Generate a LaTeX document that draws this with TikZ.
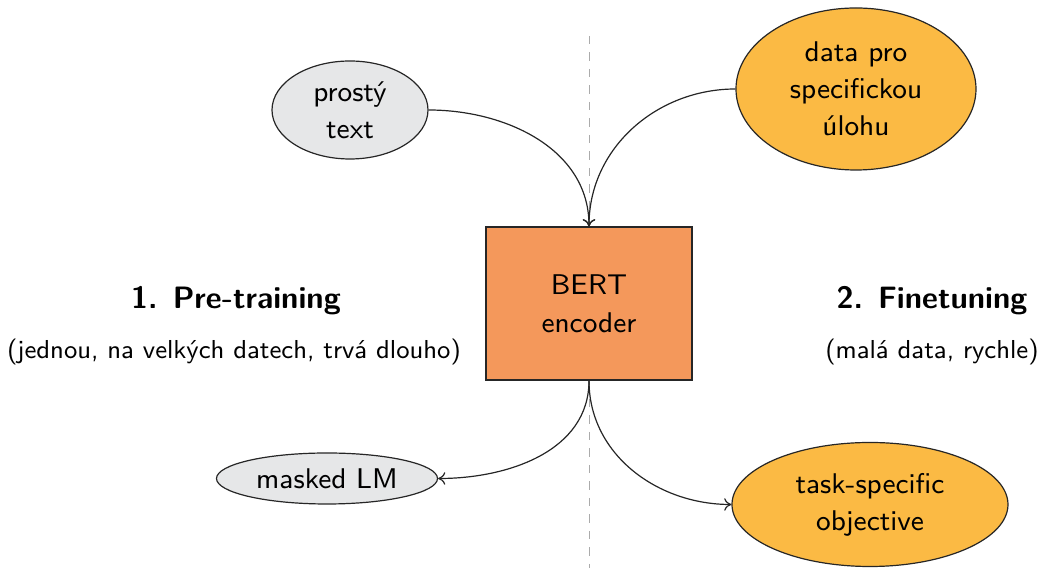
\documentclass[tikz,border=0pt]{standalone}
\usepackage{fontspec}
\setsansfont{Latin Modern Sans}
\renewcommand{\familydefault}{\sfdefault}
\usetikzlibrary{shapes.geometric,arrows.meta}
\definecolor{plaingray}{HTML}{E6E7E8}
\definecolor{taskyellow}{HTML}{FBBA44}
\definecolor{bertorange}{HTML}{F4985B}
\definecolor{splitgray}{HTML}{ABABAB}
\tikzset{
  blob/.style={ellipse, draw=black!85, inner sep=0pt, align=center,
    font=\fontsize{9.5}{12.3}\selectfont},
  pretrain/.style={blob, fill=plaingray},
  finetune/.style={blob, fill=taskyellow},
  encoderbox/.style={rectangle, draw=black!85, fill=bertorange,
    minimum width=206pt/3, minimum height=153pt/3, align=center,
    font=\fontsize{9.5}{12.6}\selectfont},
  phase/.style={font=\bfseries\fontsize{10.3}{12}\selectfont},
  phasenote/.style={font=\fontsize{8.65}{10.5}\selectfont},
  flow/.style={-{To[length=2.4pt,width=4.2pt]}, black!85},
}
\begin{document}
\begin{tikzpicture}[x=0.33333pt,y=-0.33333pt]
  \useasboundingbox (0,0) rectangle (1040,568);
  % divider between the two phases
  \coordinate (top) at (589,36);
  \coordinate (bottom) at (589,568);
  \draw[splitgray, line width=0.3pt, dash pattern=on 2.7pt off 2.8pt] (top) -- (bottom);

  \node[encoderbox] (bert) at (589,303.5) {BERT\\encoder};

  \node[pretrain, minimum width=156pt/3, minimum height=98pt/3] (plain) at (350,110) {prostý\\text};
  \node[finetune, minimum width=240pt/3, minimum height=162pt/3] (taskdata) at (856,89) {data pro\\specifickou\\úlohu};
  \node[pretrain, minimum width=221pt/3, minimum height=51pt/3] (mlm) at (327,478.5) {masked LM};
  \node[finetune, minimum width=276pt/3, minimum height=124pt/3] (objective) at (870,504.5) {task-specific\\objective};

  \node[phase] (pt) at (236,301) {1. Pre-training};
  \node[phasenote] (ptnote) at (234,352) {(jednou, na velkých datech, trvá dlouho)};
  \node[phase] (ft) at (932,301) {2. Finetuning};
  \node[phasenote] (ftnote) at (932,352) {(malá data, rychle)};

  \draw[flow] (plain.east) to[out=0, in=90] (bert.north);
  \draw[flow] (taskdata.west) to[out=180, in=90] (bert.north);
  \draw[flow] (bert.south) to[out=-90, in=0] (mlm.east);
  \draw[flow] (bert.south) to[out=-90, in=180] (objective.west);
\end{tikzpicture}
\end{document}
